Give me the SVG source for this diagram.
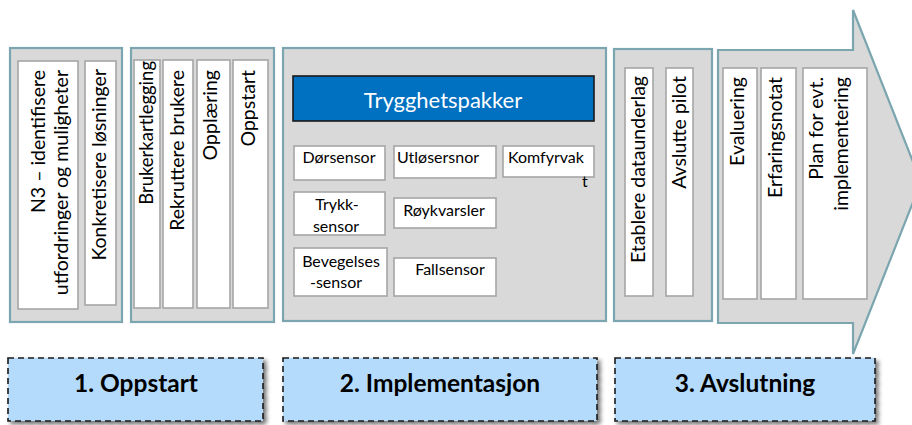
<svg xmlns="http://www.w3.org/2000/svg" width="912" height="425" viewBox="0 0 912 425">
<defs>
<style>
.phase{fill:#D9D9D9;stroke:#7BA6AF;stroke-width:2.2}
.item{fill:#FFFFFF;stroke:#A6A6A6;stroke-width:1.6}
.vt{font-family:Lato,"Liberation Sans",sans-serif;font-size:19.5px;fill:#000;text-anchor:end}
.ht{font-family:Lato,"Liberation Sans",sans-serif;font-size:16px;fill:#000}
.lbl{fill:#B4DBFB;stroke:#1A1A1A;stroke-width:1.6;stroke-dasharray:6,4}
.lt{font-family:Lato,"Liberation Sans",sans-serif;font-size:24.5px;font-weight:bold;fill:#000;text-anchor:middle}
</style>
<filter id="sh" x="-5%" y="-10%" width="115%" height="130%">
<feDropShadow dx="3" dy="3" stdDeviation="2" flood-color="#000" flood-opacity="0.55"/>
</filter>
</defs>

<g id="phase1">
<rect class="phase" x="10" y="48" width="112" height="274"/>
<rect class="item" x="18" y="61" width="60" height="248"/>
<text class="vt" transform="translate(45,70) rotate(-90)">N3 – identifisere</text>
<text class="vt" transform="translate(68,70) rotate(-90)">utfordringer og muligheter</text>
<rect class="item" x="85" y="61" width="31" height="244"/>
<text class="vt" transform="translate(106,69) rotate(-90)">Konkretisere løsninger</text>
</g>

<g id="phase2">
<rect class="phase" x="131" y="48" width="143" height="274"/>
<rect class="item" x="134" y="60" width="26" height="248"/>
<text class="vt" transform="translate(153,61) rotate(-90)" style="font-size:18.5px">Brukerkartlegging</text>
<rect class="item" x="163" y="60" width="30" height="248"/>
<text class="vt" transform="translate(184,70) rotate(-90)">Rekruttere brukere</text>
<rect class="item" x="197" y="60" width="33" height="248"/>
<text class="vt" transform="translate(217,70) rotate(-90)">Opplæring</text>
<rect class="item" x="233" y="60" width="35" height="248"/>
<text class="vt" transform="translate(255,70) rotate(-90)">Oppstart</text>
</g>

<g id="phase3">
<rect class="phase" x="283" y="48" width="323" height="273"/>
<rect x="293" y="76" width="301" height="45" fill="#0070C0" stroke="#1A1A1A" stroke-width="1.6"/>
<text x="443" y="108" font-family="Lato,'Liberation Sans',sans-serif" font-size="22" fill="#FFFFFF" text-anchor="middle">Trygghetspakker</text>
<rect class="item" x="294" y="146" width="91" height="34"/>
<text class="ht" x="339" y="163" text-anchor="middle">Dørsensor</text>
<rect class="item" x="394" y="146" width="102" height="32"/>
<text class="ht" x="397" y="163">Utløsersnor</text>
<rect class="item" x="503" y="146" width="91" height="31"/>
<text class="ht" x="508" y="163">Komfyrvak</text>
<text class="ht" x="582" y="187">t</text>
<rect class="item" x="294" y="192" width="91" height="43"/>
<text class="ht" x="337" y="210" text-anchor="middle">Trykk-</text>
<text class="ht" x="336" y="232" text-anchor="middle">sensor</text>
<rect class="item" x="394" y="198" width="102" height="30"/>
<text class="ht" x="444" y="216" text-anchor="middle">Røykvarsler</text>
<rect class="item" x="294" y="248" width="93" height="48"/>
<text class="ht" x="341" y="267" text-anchor="middle">Bevegelses</text>
<text class="ht" x="336" y="288" text-anchor="middle">-sensor</text>
<rect class="item" x="394" y="258" width="102" height="38"/>
<text class="ht" x="450" y="275" text-anchor="middle">Fallsensor</text>
</g>

<g id="phase4">
<rect class="phase" x="614" y="49" width="98" height="272"/>
<rect class="item" x="625" y="68" width="28" height="228"/>
<text class="vt" transform="translate(645,76) rotate(-90)">Etablere dataunderlag</text>
<rect class="item" x="666" y="68" width="27" height="228"/>
<text class="vt" transform="translate(686,76) rotate(-90)">Avslutte pilot</text>
</g>

<g id="phase5">
<path class="phase" d="M718,50 L853,50 L853,10 L921,182 L853,354 L853,323 L718,323 Z"/>
<rect class="item" x="723" y="68" width="34" height="231"/>
<text class="vt" transform="translate(744,77) rotate(-90)">Evaluering</text>
<rect class="item" x="761" y="68" width="35" height="231"/>
<text class="vt" transform="translate(782,77) rotate(-90)">Erfaringsnotat</text>
<rect class="item" x="803" y="68" width="64" height="231"/>
<text class="vt" transform="translate(823,77) rotate(-90)">Plan for evt.</text>
<text class="vt" transform="translate(848,77) rotate(-90)">implementering</text>
</g>

<g id="label1">
<rect class="lbl" x="8" y="358" width="255" height="63" filter="url(#sh)"/>
<text class="lt" x="136" y="392">1. Oppstart</text>
</g>
<g id="label2">
<rect class="lbl" x="283" y="358" width="314" height="63" filter="url(#sh)"/>
<text class="lt" x="440" y="392">2. Implementasjon</text>
</g>
<g id="label3">
<rect class="lbl" x="615" y="358" width="260" height="63" filter="url(#sh)"/>
<text class="lt" x="745" y="392">3. Avslutning</text>
</g>

<g id="connectors"></g>
</svg>
